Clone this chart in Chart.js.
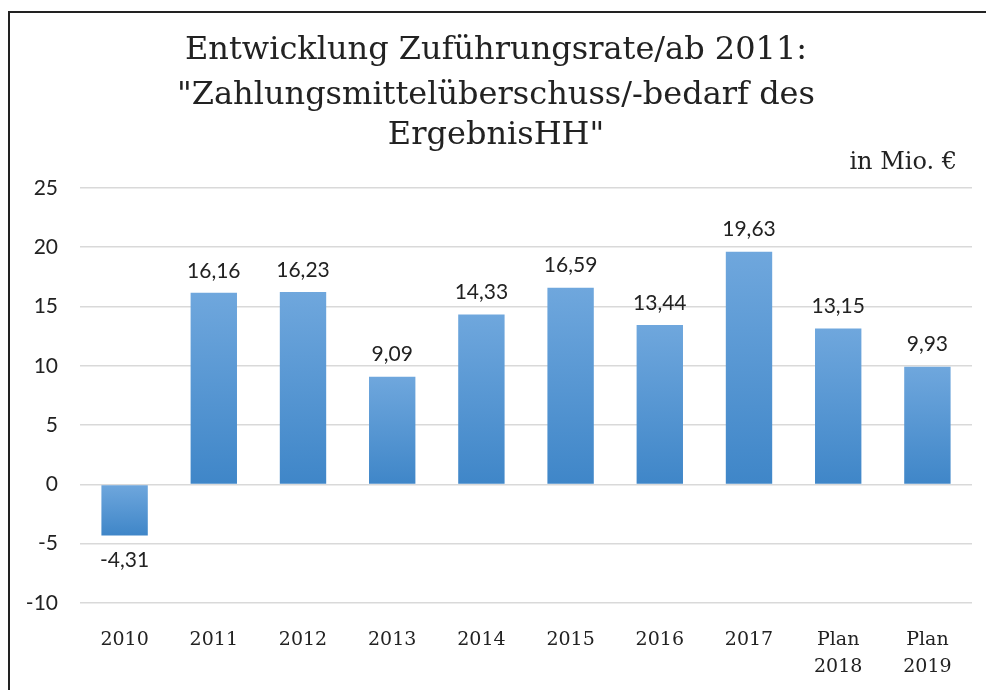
<!DOCTYPE html>
<html>
<head>
<meta charset="utf-8">
<script src="https://cdn.jsdelivr.net/npm/chart.js@4/dist/chart.umd.min.js"></script>
<style>
html,body{margin:0;padding:0;background:#fff;overflow:hidden;}
#wrap{position:relative;width:986px;height:690px;}
#frame{position:absolute;left:8px;top:11px;width:1000px;height:700px;border-left:2px solid #222;border-top:2px solid #222;pointer-events:none;}
canvas{position:absolute;left:0;top:0;}
</style>
</head>
<body>
<div id="wrap">
<canvas id="c" width="986" height="690"></canvas>
<div id="frame"></div>
</div>
<script>
const categories = [["2010"],["2011"],["2012"],["2013"],["2014"],["2015"],["2016"],["2017"],["Plan","2018"],["Plan","2019"]];
const values = [-4.31, 16.16, 16.23, 9.09, 14.33, 16.59, 13.44, 19.63, 13.15, 9.93];
const titleLines = ["Entwicklung Zuführungsrate/ab 2011:", "\"Zahlungsmittelüberschuss/-bedarf des", "ErgebnisHH\""];
const unitLabel = "in Mio. €";
const yTicks = [-10, -5, 0, 5, 10, 15, 20, 25];

const SERIF = '"DejaVu Serif", serif';
const NUM = 'Lato, "Open Sans", sans-serif';

function fmt(v){ return v.toFixed(2).replace('.', ','); }

const titlePlugin = {
  id: 'titleText',
  afterDraw(chart){
    const ctx = chart.ctx;
    ctx.save();
    ctx.fillStyle = '#222';
    ctx.font = '32px ' + SERIF;
    ctx.textAlign = 'center';
    ctx.textBaseline = 'middle';
    const ys = [51, 96, 136];
    titleLines.forEach((t,i)=>ctx.fillText(t, 496, ys[i]));
    ctx.font = '24px ' + SERIF;
    ctx.textAlign = 'right';
    ctx.fillText(unitLabel, 957, 163);
    ctx.restore();
  }
};

const labelPlugin = {
  id: 'valueLabels',
  afterDatasetsDraw(chart){
    const ctx = chart.ctx;
    const meta = chart.getDatasetMeta(0);
    ctx.save();
    ctx.fillStyle = '#222';
    ctx.font = '21px ' + NUM;
    ctx.textAlign = 'center';
    ctx.textBaseline = 'middle';
    meta.data.forEach((bar,i)=>{
      const v = values[i];
      const y = v >= 0 ? bar.y - 22 : bar.y + 25;
      ctx.fillText(fmt(v), bar.x, y);
    });
    ctx.restore();
  }
};

new Chart(document.getElementById('c'), {
  type: 'bar',
  data: {
    labels: categories,
    datasets: [{
      data: values,
      barPercentage: 0.52,
      categoryPercentage: 1.0,
      backgroundColor(context){
        const chart = context.chart;
        const yS = chart.scales.y;
        if (!chart.chartArea || !yS) return '#5b9bd5';
        const v = context.raw;
        const top = yS.getPixelForValue(Math.max(v,0));
        const bot = yS.getPixelForValue(Math.min(v,0));
        const g = chart.ctx.createLinearGradient(0, top, 0, bot);
        g.addColorStop(0, '#6fa7dd');
        g.addColorStop(1, '#3f86c8');
        return g;
      }
    }]
  },
  options: {
    responsive: false,
    animation: false,
    devicePixelRatio: 1,
    layout: { padding: { top: 188, right: 14, left: 0, bottom: 0 } },
    plugins: { legend: { display: false }, tooltip: { enabled: false }, title: { display: false } },
    scales: {
      x: {
        grid: { display: false, drawTicks: false },
        border: { display: false },
        ticks: { color: '#222', font: { family: SERIF, size: 19, lineHeight: 1.4 }, padding: 24, maxRotation: 0, autoSkip: false },
        afterFit(s){ s.height = 87; }
      },
      y: {
        min: -10, max: 25,
        afterBuildTicks(s){ s.ticks = yTicks.map(v=>({value:v})); },
        grid: { color: '#d9d9d9', lineWidth: 1.6, drawTicks: false },
        border: { display: false },
        ticks: { color: '#222', font: { family: NUM, size: 21 }, padding: 22 },
        afterFit(s){ s.width = 80; }
      }
    }
  },
  plugins: [titlePlugin, labelPlugin]
});
</script>
</body>
</html>
